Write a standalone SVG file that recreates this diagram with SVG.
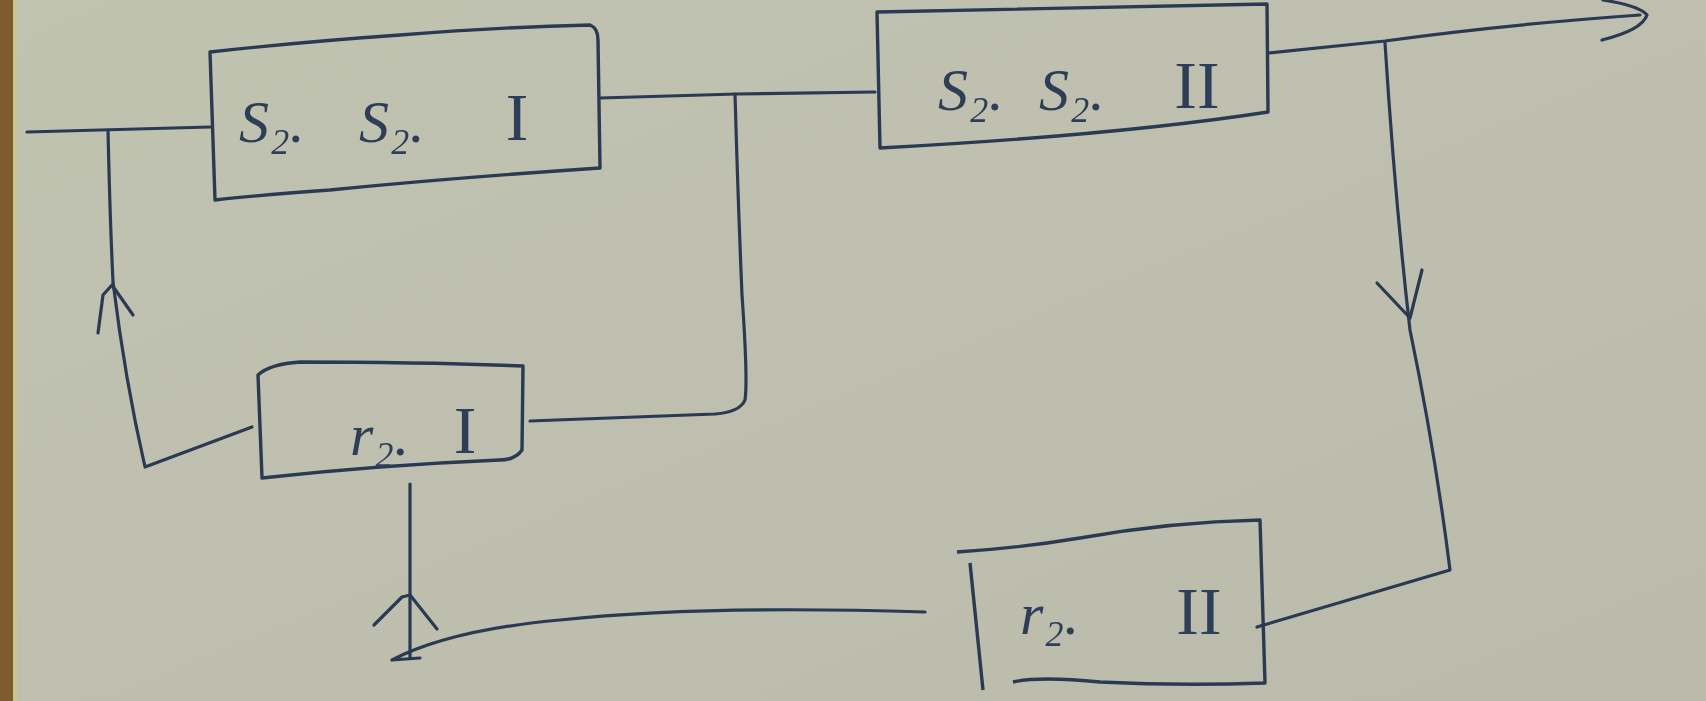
<svg xmlns="http://www.w3.org/2000/svg" width="1706" height="701" viewBox="0 0 1706 701">
  <style>
    .ln { fill: none; stroke: #2b3a52; stroke-width: 3.2; stroke-linecap: round; stroke-linejoin: round; }
    .box { fill: none; stroke: #2b3a52; stroke-width: 3.4; stroke-linejoin: round; }
    .lbl { font-family: "Liberation Serif", serif; font-style: italic; font-size: 60px; fill: #2e3d58; }
    .rom { font-family: "Liberation Serif", serif; font-size: 68px; fill: #2e3d58; text-anchor: middle; }
  </style>
  <defs>
    <linearGradient id="bg" x1="0" y1="0" x2="1" y2="1">
      <stop offset="0" stop-color="#c1c3b1"/>
      <stop offset="1" stop-color="#bbbbab"/>
    </linearGradient>
  </defs>
  <rect x="0" y="0" width="1706" height="701" fill="url(#bg)"/>
  <rect x="0" y="0" width="13" height="701" fill="#7d5c30"/>
  <rect x="13" y="0" width="4" height="701" fill="#cdc48c"/>

  <g id="connectors">
    <!-- input and feedback loop left -->
    <path class="ln" d="M27,132 L210,127"/>
    <path class="ln" d="M108,130 Q110,220 113,282 Q125,380 145,467 L252,427"/>
    <path class="ln" d="M98,333 L103,295 L112,285 L133,315"/>
    <!-- SS I to SS II, with branch to r2 I -->
    <path class="ln" d="M600,98 L737,94 L875,92"/>
    <path class="ln" d="M735,94 Q738,200 742,295 Q748,380 745,400 Q740,412 715,414 L530,421"/>
    <!-- output from SS II -->
    <path class="ln" d="M1268,53 L1385,41 Q1500,25 1640,15"/>
    <path class="ln" d="M1603,0 Q1640,6 1647,15 Q1642,30 1602,40"/>
    <!-- branch down to r2 II -->
    <path class="ln" d="M1385,43 Q1395,200 1410,330 Q1435,450 1450,570 L1257,627"/>
    <path class="ln" d="M1377,283 L1410,318 L1422,270"/>
    <!-- r2 II to r2 I -->
    <path class="ln" d="M925,612 Q700,605 560,620 Q450,630 392,660 L420,658"/>
    <path class="ln" d="M410,658 L410,484"/>
    <path class="ln" d="M374,625 L402,597 L410,595 L437,629"/>
  </g>

  <g id="node-ss1">
    <path class="box" d="M210,52 Q300,42 400,35 Q500,27 590,25 Q598,28 598,40 L600,168 Q450,178 330,190 Q260,195 215,200 L210,52 Z"/>
    <text class="lbl" y="142"><tspan x="239">S₂.</tspan><tspan x="359">S₂.</tspan></text>
    <text class="rom" x="517" y="140">I</text>
  </g>

  <g id="node-ss2">
    <path class="box" d="M877,12 L1267,4 L1268,112 Q1120,135 880,148 Z"/>
    <text class="lbl" y="110"><tspan x="938">S₂.</tspan><tspan x="1039">S₂.</tspan></text>
    <text class="rom" x="1197" y="108">II</text>
  </g>

  <g id="node-r1">
    <path class="box" d="M258,375 Q270,364 300,362 Q420,362 523,366 L522,450 Q515,460 500,460 Q380,465 262,478 Z"/>
    <text class="lbl" y="455"><tspan x="350">r₂.</tspan></text>
    <text class="rom" x="465" y="453">I</text>
  </g>

  <g id="node-r2">
    <path class="box" d="M957,552 Q1020,548 1080,538 Q1170,522 1260,520 L1265,683 Q1180,686 1100,682 Q1040,676 1013,682 M970,563 L983,690"/>
    <text class="lbl" y="634"><tspan x="1020">r₂.</tspan></text>
    <text class="rom" x="1199" y="634">II</text>
  </g>
</svg>
